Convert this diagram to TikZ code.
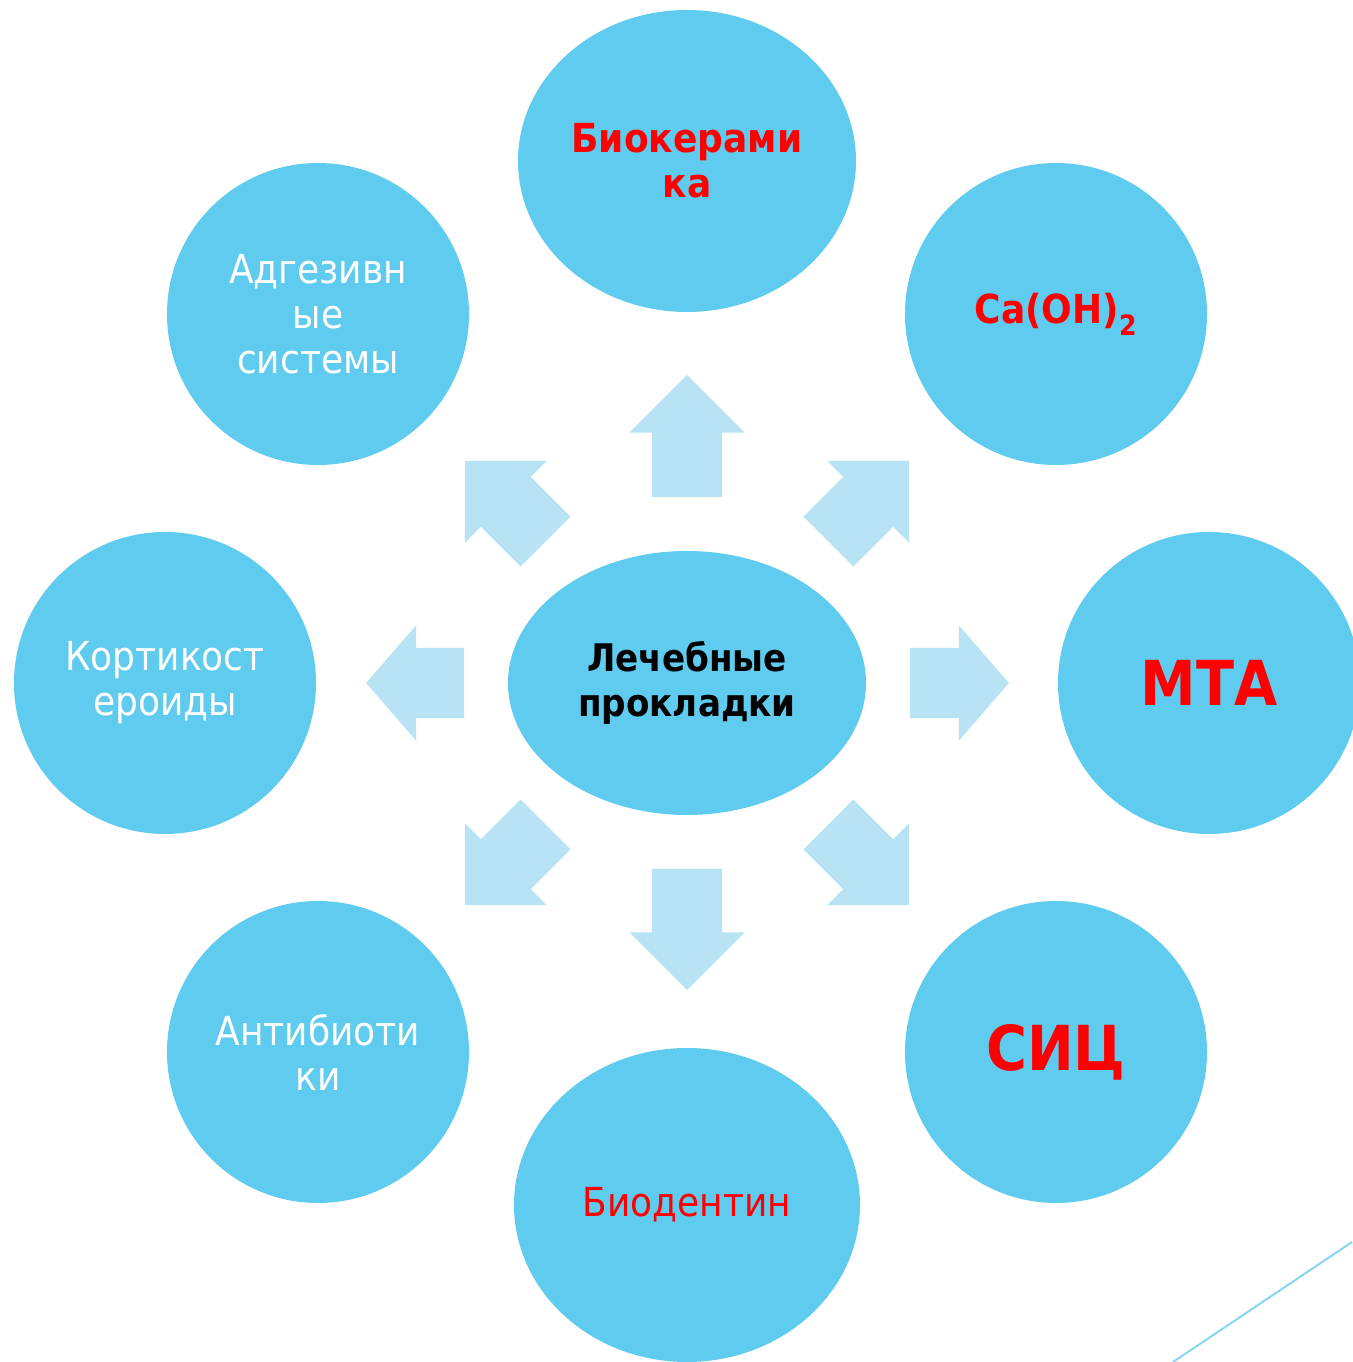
\documentclass[tikz,border=0pt]{standalone}
\usepackage{fontspec}
\setmainfont{DejaVu Sans}[FakeStretch=0.9]
\usetikzlibrary{shapes.geometric,shapes.arrows}

\begin{document}
\begin{tikzpicture}[x=1pt,y=1pt]
  % some colors
  \definecolor{bubble}{HTML}{5FCBEE}
  \definecolor{pointer}{HTML}{B7E3F5}
  \definecolor{rim}{HTML}{8AD5F0}
  \colorlet{hot}{red}
  % some styles
  \tikzset{
    disc/.style={
      circle,
      minimum size=302pt,
      inner sep=0mm,
      outer sep=0mm,
      align=center,
      text=#1,
      fill=bubble,
      font=\fontsize{40}{45}\selectfont,
    },
    oval/.style={
      disc=#1,
      ellipse,
    },
    big/.style={font=\fontsize{62}{70}\selectfont\bfseries},
    arrowbox/.style={
      single arrow,
      single arrow head extend=22.5pt,
      minimum height=#1,
      inner xsep=0pt,
      inner ysep=35pt,
      outer sep=0pt,
      fill=pointer,
      anchor=tail,
    },
  }
  \useasboundingbox (0,0) rectangle (1352,1362);
  % centre
  \node[oval=black, minimum width=358pt, minimum height=264pt, font=\fontsize{38}{45}\selectfont\bfseries]
    (mid) at (687,679) {Лечебные\\прокладки};
  % ring of materials
  \node[oval=hot, minimum width=338pt, minimum height=302pt, font=\fontsize{40}{45}\selectfont\bfseries]
    (bio) at (687,1201) {Биокерами\\ка};
  \node[disc=hot, font=\fontsize{40}{45}\selectfont\bfseries] (caoh) at (1056,1048) {Ca(OH)\textsubscript{2}};
  \node[disc=hot, big] (mta) at (1209,679) {МТА};
  \node[disc=hot, big] (sic) at (1056,310) {СИЦ};
  \node[oval=hot, minimum width=346pt, minimum height=314pt] (dent) at (687,157) {Биодентин};
  \node[disc=white] (anti) at (318,310) {Антибиоти\\ки};
  \node[disc=white] (cort) at (165,679) {Кортикост\\ероиды};
  \node[disc=white] (adh) at (318,1048) {Адгезивн\\ые\\системы};
  % block arrows : angle / distance of tail / length / tip angle
  \foreach \ang/\dist/\len/\tip in {90/186/122/90, 45/200/114/90, 0/223/99/98, -45/200/114/90,
                                    -90/186/121/90, -135/200/114/90, 180/223/98/98, 135/200/114/90} {
    \node[arrowbox=\len pt, single arrow tip angle=\tip, rotate=\ang]
      (arr\ang) at ([shift={(\ang:\dist)}]mid) {};
  }
  % slide corner line
  \coordinate (lo) at (1173,0);
  \coordinate (hi) at (1352,120);
  \draw[rim, line width=2pt] (lo) -- (hi);
\end{tikzpicture}
\end{document}
